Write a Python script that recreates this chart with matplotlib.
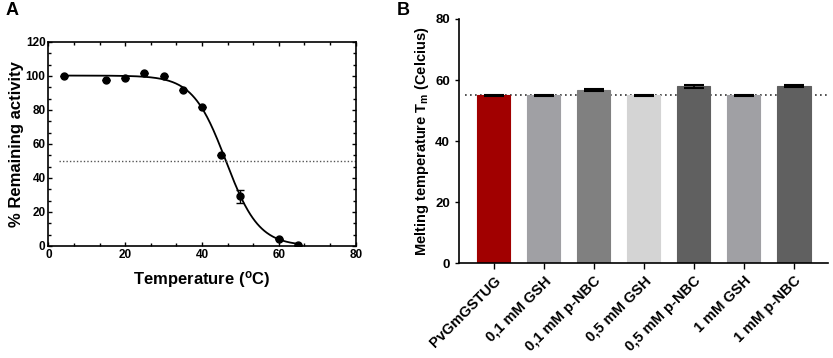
import numpy as np
import matplotlib
matplotlib.use("Agg")
import matplotlib.pyplot as plt
from matplotlib.ticker import AutoMinorLocator, MultipleLocator

plt.rcParams['font.family'] = ['Liberation Sans', 'DejaVu Sans']
plt.rcParams['font.weight'] = 'bold'
plt.rcParams['mathtext.fontset'] = 'custom'
plt.rcParams['mathtext.rm'] = 'Liberation Sans:bold'
plt.rcParams['mathtext.bf'] = 'Liberation Sans:bold'
plt.rcParams['mathtext.it'] = 'Liberation Sans:bold'

# panel A data: residual activity after heat treatment
temps = [4, 15, 20, 25, 30, 35, 40, 45, 50, 60, 65]
activity = [100, 97.5, 99, 101.5, 100, 91.5, 81.5, 53.5, 29.3, 4, 0.3]
activity_err = [0, 0, 0, 0, 0, 0, 0, 0, 3.8, 0, 0]
# fitted Boltzmann parameters
fit_top = 100.2
fit_mid = 46.2
fit_slope = 4.3

# panel B data: melting temperatures
conditions = ['PvGmGSTUG', '0,1 mM GSH', '0,1 mM p-NBC', '0,5 mM GSH',
              '0,5 mM p-NBC', '1 mM GSH', '1 mM p-NBC']
tm_values = [55.0, 55.0, 56.7, 55.0, 57.9, 55.0, 58.1]
tm_err = [0.15, 0.1, 0.2, 0.1, 0.5, 0.1, 0.4]
bar_colors = ['#a10000', '#a0a0a4', '#808080', '#d4d4d4', '#606060', '#a0a0a4', '#606060']
tm_ref = 55.1

fig = plt.figure(figsize=(8.33, 3.58), dpi=100)

# ---- panel A
ax1 = fig.add_axes([0.058, 0.313, 0.369, 0.570])
xs = np.linspace(4, 65, 300)
ax1.plot(xs, fit_top / (1 + np.exp((xs - fit_mid) / fit_slope)), color='black', lw=1.3)
ax1.errorbar(temps, activity, yerr=activity_err, fmt='o', color='black', ms=5,
             capsize=3, elinewidth=1, capthick=1)
ax1.axhline(50, xmin=0.035, xmax=1, color='#555555', ls=(0, (1, 1.5)), lw=1)
ax1.set_xlim(0, 80)
ax1.set_ylim(0, 120)
ax1.xaxis.set_major_locator(MultipleLocator(20))
ax1.yaxis.set_major_locator(MultipleLocator(20))
ax1.xaxis.set_minor_locator(AutoMinorLocator(3))
ax1.yaxis.set_minor_locator(AutoMinorLocator(3))
ax1.tick_params(which='both', direction='in', top=True, right=True, labelsize=8.5, width=1)
ax1.tick_params(which='major', length=3, pad=2)
ax1.tick_params(which='minor', length=2)
for s in ax1.spines.values():
    s.set_linewidth(1.2)
ax1.set_xlabel(r'Temperature ($^{\mathbf{o}}$C)', fontsize=12, fontweight='bold', labelpad=6)
ax1.set_ylabel('% Remaining activity', fontsize=12, fontweight='bold', labelpad=1)

# ---- panel B
ax2 = fig.add_axes([0.551, 0.265, 0.443, 0.682])
pos = np.arange(len(conditions))
ax2.bar(pos, tm_values, width=0.66, color=bar_colors, edgecolor=bar_colors, lw=0.8, zorder=2)
ax2.errorbar(pos, tm_values, yerr=tm_err, fmt='none', ecolor='black', capsize=7,
             elinewidth=1.2, capthick=1.5, zorder=3)
ax2.axhline(tm_ref, xmin=0.016, xmax=1, color='#333333', ls=(0, (1, 2)), lw=1.2, zorder=1)
ax2.set_xlim(-0.7, 6.68)
ax2.set_ylim(0, 80)
ax2.yaxis.set_major_locator(MultipleLocator(20))
ax2.set_xticks(pos)
ax2.set_xticklabels(conditions, rotation=45, ha='right', rotation_mode='anchor', fontsize=10.5)
ax2.tick_params(axis='y', labelsize=9.5, length=3, width=1)
ax2.tick_params(axis='x', length=4, width=1)
ax2.spines['top'].set_visible(False)
ax2.spines['right'].set_visible(False)
ax2.spines['left'].set_linewidth(1.2)
ax2.spines['bottom'].set_linewidth(1.2)
ax2.set_ylabel(r'Melting temperature T$_{\mathbf{m}}$ (Celcius)', fontsize=10.5, fontweight='bold', labelpad=3)

fig.text(0.015, 0.972, 'A', fontsize=13, fontweight='bold', ha='center', va='center')
fig.text(0.484, 0.972, 'B', fontsize=13, fontweight='bold', ha='center', va='center')

fig.savefig('out.png', dpi=100)
